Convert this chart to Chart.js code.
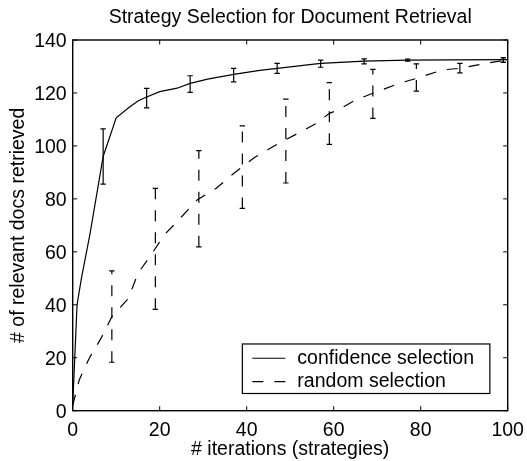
<!DOCTYPE html>
<html>
<head>
<meta charset="utf-8">
<script src="https://cdn.jsdelivr.net/npm/chart.js@4/dist/chart.umd.min.js"></script>
<style>
html,body{margin:0;padding:0;background:#fff;}
#grafico{display:block;}
</style>
</head>
<body>
<canvas id="grafico" width="527" height="461"></canvas>
<script>
// valores
const iterConf=[0,1,2,4,7,10,13,15,17,20,24,27,31,37,43,47,57,67,77,87,100];
const relConf=[2,40,50,67,96,110.6,114.6,117,118.5,120.5,121.8,123.6,125.2,127,128.5,129.3,131.2,132,132.4,132.5,132.6];
const iterRand=[0,1.5,3.8,6.5,9,12.8,15,18,21,24,28.6,33,37,41.7,46.3,52.5,56,59,61,65,69,75,79,85,89,95,100];
const relRand=[2,11.6,19.8,27.3,35.5,42.4,51.9,58.8,66.3,71.4,79.6,84,89.6,95.5,100,105.4,108.5,112.3,113.6,117.3,119.9,123.6,125.5,128.7,129.3,131.2,132.5];
// barras de erro
const barConfX=[7,17,27,37,47,57,67,77,99];
const barConfLo=[85.6,114.4,120.2,124.2,127.4,129.7,131,132,131.6];
const barConfHi=[106.4,121.7,126.5,129.3,131.2,132.4,132.9,132.8,133.3];
const barRandX=[9,19,29,39,49,59,69,79,89,99];
const barRandLo=[18.3,38.3,61.9,76.4,86,100.6,110.4,120.7,127.6,131.6];
const barRandHi=[52.8,84,98.2,107.6,117.7,123.9,128.9,131,131.2,133.3];
const xTicks=[0,20,40,60,80,100];
const yTicks=[0,20,40,60,80,100,120,140];

const FONTE="'Liberation Sans', Arial, Helvetica, sans-serif";
const TAM=19.5;
const TRACO=[11,11];
const pares=(xs,ys)=>xs.map((x,i)=>({x,y:ys[i]}));

// barras de erro com as escalas do chart
const barrasErro={
  id:'barrasErro',
  afterDatasetsDraw(chart){
    const {ctx,scales:{x,y}}=chart;
    const grupos=[
      {xs:barConfX,lo:barConfLo,hi:barConfHi,dash:[]},
      {xs:barRandX,lo:barRandLo,hi:barRandHi,dash:TRACO}
    ];
    ctx.save();
    ctx.strokeStyle='#000';ctx.lineWidth=1.2;
    grupos.forEach(g=>{
      g.xs.forEach((v,i)=>{
        const px=x.getPixelForValue(v),p1=y.getPixelForValue(g.lo[i]),p2=y.getPixelForValue(g.hi[i]);
        ctx.setLineDash(g.dash);
        ctx.beginPath();ctx.moveTo(px,p1);ctx.lineTo(px,p2);ctx.stroke();
        ctx.setLineDash([]);
        ctx.beginPath();
        ctx.moveTo(px-2.7,p1);ctx.lineTo(px+2.7,p1);
        ctx.moveTo(px-2.7,p2);ctx.lineTo(px+2.7,p2);
        ctx.stroke();
      });
    });
    ctx.restore();
  }
};

// caixa estilo matlab: moldura e ticks para dentro, mais a legenda
const moldura={
  id:'moldura',
  afterDraw(chart){
    const {ctx,chartArea:a,scales:{x,y}}=chart;
    ctx.save();
    ctx.strokeStyle='#000';ctx.lineWidth=1.4;
    ctx.strokeRect(a.left,a.top,a.right-a.left,a.bottom-a.top);
    ctx.lineWidth=1;
    ctx.beginPath();
    x.ticks.forEach(t=>{const px=x.getPixelForValue(t.value);
      ctx.moveTo(px,a.bottom);ctx.lineTo(px,a.bottom-4.5);
      ctx.moveTo(px,a.top);ctx.lineTo(px,a.top+4.5);});
    y.ticks.forEach(t=>{const py=y.getPixelForValue(t.value);
      ctx.moveTo(a.left,py);ctx.lineTo(a.left+4.5,py);
      ctx.moveTo(a.right,py);ctx.lineTo(a.right-4.5,py);});
    ctx.stroke();
    // legenda no canto inferior direito
    const L=x.getPixelForValue(39),R=x.getPixelForValue(95.9);
    const T=y.getPixelForValue(25.2),B=y.getPixelForValue(6.5);
    ctx.fillStyle='#fff';ctx.fillRect(L,T,R-L,B-T);
    ctx.lineWidth=1.2;ctx.strokeRect(L,T,R-L,B-T);
    ctx.font=TAM+'px '+FONTE;ctx.fillStyle='#000';ctx.textBaseline='middle';
    chart.data.datasets.forEach((ds,i)=>{
      const cy=T+14.3+i*23.4;
      ctx.setLineDash(ds.borderDash||[]);
      ctx.beginPath();ctx.moveTo(L+10,cy);ctx.lineTo(L+43,cy);ctx.stroke();
      ctx.setLineDash([]);
      ctx.fillText(ds.label,L+55,cy);
    });
    ctx.restore();
  }
};

new Chart(document.getElementById('grafico'),{
  type:'line',
  data:{datasets:[
    {label:'confidence selection',data:pares(iterConf,relConf),borderColor:'#000',borderWidth:1.2,pointRadius:0,tension:0,fill:false},
    {label:'random selection',data:pares(iterRand,relRand),borderColor:'#000',borderWidth:1.2,borderDash:TRACO,pointRadius:0,tension:0,fill:false}
  ]},
  options:{
    responsive:false,animation:false,
    layout:{padding:{left:0,right:19.3,top:0,bottom:0}},
    plugins:{
      legend:{display:false},tooltip:{enabled:false},
      title:{display:true,fullSize:false,text:'Strategy Selection for Document Retrieval',color:'#000',
        font:{family:FONTE,size:TAM,weight:'normal'},padding:{top:6,bottom:10.6}}
    },
    scales:{
      x:{type:'linear',min:0,max:100,
        afterBuildTicks:s=>{s.ticks=xTicks.map(v=>({value:v}));},
        afterFit:s=>{s.height=50.3;s.paddingLeft=0;s.paddingRight=0;},
        grid:{display:false,drawTicks:false},border:{display:false},
        ticks:{color:'#000',padding:8,font:{family:FONTE,size:TAM},maxRotation:0},
        title:{display:true,text:'# iterations (strategies)',color:'#000',font:{family:FONTE,size:TAM},padding:{top:0,bottom:0}}},
      y:{type:'linear',min:0,max:140,
        afterBuildTicks:s=>{s.ticks=yTicks.map(v=>({value:v}));},
        afterFit:s=>{s.width=72.7;s.paddingTop=0;s.paddingBottom=0;},
        grid:{display:false,drawTicks:false},border:{display:false},
        ticks:{color:'#000',padding:6,labelOffset:2,font:{family:FONTE,size:TAM}},
        title:{display:true,text:'# of relevant docs retrieved',color:'#000',font:{family:FONTE,size:TAM},padding:{top:7,bottom:0}}}
    }
  },
  plugins:[barrasErro,moldura]
});
</script>
</body>
</html>
